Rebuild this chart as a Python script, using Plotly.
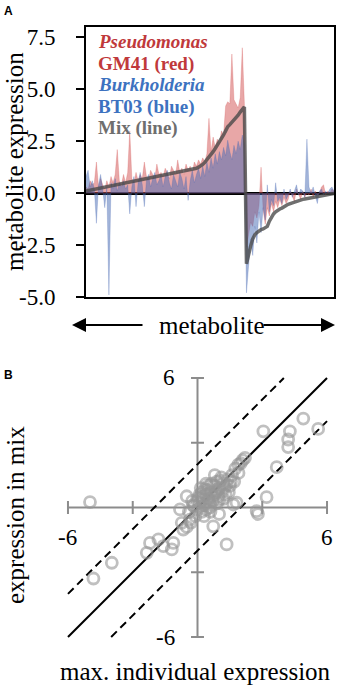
import plotly.graph_objects as go

# ---------------- Panel A data (metabolites sorted by mix expression) ----------------
mix_pos = [0.10, 0.12, 0.14, 0.16, 0.18, 0.20, 0.22, 0.24, 0.26, 0.28, 0.30,
           0.32, 0.34, 0.36, 0.38, 0.40, 0.42, 0.44, 0.46, 0.48, 0.50,
           0.52, 0.54, 0.56, 0.58, 0.60, 0.62, 0.64, 0.66, 0.68, 0.70, 0.72, 0.74, 0.76, 0.78, 0.80,
           0.82, 0.85, 0.88, 0.90, 0.92, 0.94, 0.96, 0.98, 1.00, 1.02, 1.04, 1.06, 1.08, 1.10, 1.12,
           1.14, 1.16, 1.20, 1.25, 1.30,
           1.38, 1.48, 1.60, 1.72, 1.85, 2.00, 2.15, 2.30, 2.45, 2.60, 2.80, 3.00, 3.20, 3.30, 3.40,
           3.50, 3.60, 3.75, 3.90, 4.00, 4.15]
mix_neg = [-3.40, -2.90, -2.55, -2.20, -2.00, -1.90, -1.80, -1.75, -1.72, -1.68,
           -1.60, -1.35, -1.15, -1.00, -0.90, -0.82, -0.76, -0.72, -0.65, -0.58,
           -0.54, -0.50, -0.46, -0.42, -0.38, -0.35, -0.33, -0.30, -0.28, -0.26,
           -0.24, -0.22, -0.20, -0.19, -0.18, -0.16, -0.14, -0.12, -0.10, -0.08,
           -0.06, -0.04, -0.02]
mix_expr = mix_pos + mix_neg

pseudo_pos = [0.3, 0.2, 0.6, 0.4, 0.5, 1.5, 0.3, 0.7, 0.4, 0.2, 0.6,
              0.3, 0.8, 0.5, 0.9, 2.1, 0.6, 0.4, 0.9, 0.5, 1.0,
              3.0, 0.7, 0.5, 1.0, 0.6, 0.9, 0.7, 1.5, 0.8, 0.6, 1.1, 0.9, 0.7, 1.4, 0.9,
              1.0, 0.8, 1.2, 1.0, 0.7, 1.3, 1.1, 0.9, 1.6, 1.0, 1.2, 0.9, 1.4, 1.1, 1.3,
              1.0, 1.5, 1.3, 1.6, 1.4,
              1.7, 1.5, 1.9, 3.6, 2.0, 2.7, 2.2, 2.6, 2.4, 3.0, 2.8, 4.2, 4.4, 4.3, 6.7,
              4.5, 4.3, 4.1, 4.6, 7.0, 4.3]
pseudo_neg = [-2.6, -2.0, -1.4, -1.6, -0.9, -1.2, -0.6, 1.25, -0.8, -1.5,
              -0.7, -1.1, -0.5, -0.9, -0.4, -0.7, -0.3, -0.6, -0.2, -0.5,
              -0.3, 0.1, -0.2, -0.4, 0.2, -0.1, -0.3, 0.1, -0.2, 0.0,
              -0.1, 0.2, -0.2, 0.1, -0.1, 0.0, 0.3, 0.4, -0.1, 0.1,
              0.0, 0.2, 0.1]
pseudomonas = pseudo_pos + pseudo_neg

burk_pos = [0.8, 1.1, 0.3, 0.6, 0.2, -1.45, 0.4, 0.9, 0.2, -0.7, 0.3,
            -4.9, 0.5, 0.2, 0.7, 0.1, 0.5, 0.3, 0.6, 0.2, 0.4,
            -1.0, 0.3, 0.8, -0.65, 0.5, 1.0, 0.4, -0.65, 0.6, 0.9, 0.3, 0.7, 1.0, 0.4, 0.6,
            0.9, 0.3, 0.8, 1.1, 0.5, 0.2, 0.9, 0.6, 0.3, 1.0, 0.7, 0.2, 0.8, -0.35, 0.6,
            1.1, 0.5, 0.9, 1.2, 0.7,
            1.3, 0.8, 1.5, 1.0, 1.7, 1.2, 1.9, 1.4, 2.0, 1.6, 2.2, 1.8, 2.55, 2.0, 1.6,
            2.3, 1.9, 2.5, 2.1, 2.8, 2.4]
burk_neg = [-4.8, -3.6, -2.2, -3.0, -1.6, -2.4, -0.9, -1.9, -0.7, -1.3,
            0.4, -0.9, -0.3, -0.6, 0.5, -0.4, -0.2, -0.5, 0.2, -0.3,
            -0.1, 0.2, -0.2, 0.1, 0.4, -0.1, 0.2, 0.1, -0.2, 2.6,
            0.3, 0.0, 0.3, -0.1, -0.5, 0.1, 0.2, -0.1, 0.1, 0.0,
            0.2, 0.3, 0.1]
burkholderia = burk_pos + burk_neg

metabolite_idx = list(range(len(mix_expr)))
a_ticks = [-5.0, -2.5, 0.0, 2.5, 5.0, 7.5]

# ---------------- Panel B data ----------------
max_individual = [-4.98, 3.05, 4.28, 4.90, 5.59, 4.20, 4.20, 3.67, 3.20, 2.09, 1.89,
                  -0.50, -0.81, 2.74, 1.81, -4.82, -3.97, -2.35, -2.20, -1.81, -1.58,
                  -1.19, -1.12, -0.66, -0.73, -0.35, 0.73, 1.35, 1.66, 2.80, 2.20,
                  0.10, 0.30, 0.50, 0.20, 0.60, 0.80, 1.00, 1.20, 1.40, 1.50, 1.10,
                  0.90, 0.70, 0.40, 0.00, -0.20, 0.30, 0.60, 1.30, 1.60, 1.70, 0.50,
                  0.20, -0.10, -0.40, 0.90, 1.00, 0.40, 1.20, 0.80, 1.90, 0.00, -0.30,
                  -0.50, 0.15, 1.45, 0.65, 2.00, 1.75, 0.55, 1.15, -0.15, 0.35,
                  0.25, 0.45, 0.85, 1.05, 1.25, 0.95, 0.60, 0.35, 0.75, 1.35,
                  0.05, 0.55, 1.55, 0.20, 0.70, 1.00, -0.25, 0.40, 0.10, 0.90]
mix_values = [0.25, 3.53, 3.53, 4.12, 3.64, 3.15, 2.80, 1.87, 0.48, 2.19, 1.99,
              0.52, -0.09, -0.17, 0.22, -3.29, -2.56, -2.10, -1.64, -1.48, -1.79,
              -1.94, -1.64, -1.02, -0.71, -0.56, -0.87, -1.71, 0.14, -0.30, 2.30,
              0.20, 0.10, 0.40, -0.20, 0.70, 0.60, 0.90, 1.10, 1.30, 1.00, 1.40,
              1.20, 0.30, 0.60, -0.10, 0.10, -0.40, -0.20, 0.60, 1.50, 1.20, 1.00,
              0.50, -0.40, -0.20, 0.20, -0.30, -0.10, 0.40, 1.50, 1.60, 0.30, -0.70,
              -0.90, 0.90, 0.70, 1.10, 2.05, 1.80, 0.00, 0.75, 0.05, 0.85,
              0.35, 0.80, 0.70, 1.25, 0.95, 0.50, 0.15, 0.20, 1.00, 1.05,
              0.45, 0.30, 1.20, 0.70, 0.55, 0.35, 0.30, 1.10, 0.60, 0.80]
b_ticks = [-6, -3, 3, 6]
b_offsets = [0, 2, -2]
b_limit = 6

W, H = 340, 686
def px(x):
    return x / W
def py(y):
    return 1 - y / H

serif = "Liberation Serif, Times New Roman, serif"

fig = go.Figure()

# Panel A traces
fig.add_trace(go.Scatter(x=metabolite_idx, y=pseudomonas, mode="lines", fill="tozeroy",
                         line=dict(color="rgba(210,80,80,0.5)", width=0.5),
                         fillcolor="rgba(210,80,80,0.5)", xaxis="x", yaxis="y",
                         showlegend=False, hoverinfo="skip"))
fig.add_trace(go.Scatter(x=metabolite_idx, y=burkholderia, mode="lines", fill="tozeroy",
                         line=dict(color="rgba(70,105,180,0.5)", width=0.5),
                         fillcolor="rgba(70,105,180,0.5)", xaxis="x", yaxis="y",
                         showlegend=False, hoverinfo="skip"))
fig.add_trace(go.Scatter(x=metabolite_idx, y=mix_expr, mode="lines",
                         line=dict(color="rgba(70,70,70,0.78)", width=3.5),
                         xaxis="x", yaxis="y", showlegend=False, hoverinfo="skip"))

# Panel B traces: reference lines
for off in b_offsets:
    xs = [max(-b_limit, -b_limit - off), min(b_limit, b_limit - off)]
    ys = [v + off for v in xs]
    fig.add_trace(go.Scatter(x=xs, y=ys, mode="lines",
                             line=dict(color="black", width=2, dash="solid" if off == 0 else "8px,5px"),
                             xaxis="x2", yaxis="y2", showlegend=False, hoverinfo="skip"))

fig.add_trace(go.Scatter(x=max_individual, y=mix_values, mode="markers",
                         marker=dict(symbol="circle-open", size=11,
                                     color="rgba(150,150,150,0.6)",
                                     line=dict(width=2.8, color="rgba(150,150,150,0.6)")),
                         xaxis="x2", yaxis="y2", showlegend=False, hoverinfo="skip"))

# crosshair axes for panel B (shapes in data coordinates)
shapes = []
axc = "#8c8c8c"
shapes.append(dict(type="line", xref="x2", yref="y2", x0=-b_limit, x1=b_limit, y0=0, y1=0,
                   line=dict(color=axc, width=2), layer="below"))
shapes.append(dict(type="line", xref="x2", yref="y2", x0=0, x1=0, y0=-b_limit, y1=b_limit,
                   line=dict(color=axc, width=2), layer="below"))
half = 0.3
for t in b_ticks:
    shapes.append(dict(type="line", xref="x2", yref="y2", x0=t, x1=t, y0=-half, y1=half,
                       line=dict(color=axc, width=2), layer="below"))
    shapes.append(dict(type="line", xref="x2", yref="y2", x0=-half, x1=half, y0=t, y1=t,
                       line=dict(color=axc, width=2), layer="below"))

def ann(text, x, y, size, color="black", family=serif, **kw):
    d = dict(text=text, x=x, y=y, xref="paper", yref="paper", showarrow=False,
             xanchor="center", yanchor="middle",
             font=dict(family=family, size=size, color=color))
    d.update(kw)
    return d

annotations = []
# panel letters
annotations.append(ann("<b>A</b>", px(8), py(11), 12, family="Liberation Sans, Arial, sans-serif"))
annotations.append(ann("<b>B</b>", px(8), py(375), 12, family="Liberation Sans, Arial, sans-serif"))
# legend text for panel A
leg = [("<b><i>Pseudomonas</i></b>", "#c0393b", 42),
       ("<b>GM41 (red)</b>", "#c0393b", 64),
       ("<b><i>Burkholderia</i></b>", "#3d72c0", 85),
       ("<b>BT03 (blue)</b>", "#3d72c0", 107),
       ("<b>Mix (line)</b>", "#6e6e6e", 128)]
for txt, col, yy in leg:
    annotations.append(ann(txt, px(96), py(yy), 19, color=col, xanchor="left"))
# axis titles panel A
annotations.append(ann("metabolite expression", px(15), py(162), 25, textangle=-90))
annotations.append(ann("metabolite", px(212), py(325), 25))
# arrows
annotations.append(dict(text="", x=px(72), y=py(325), ax=72, ay=0, xref="paper", yref="paper",
                        axref="pixel", ayref="pixel", showarrow=True, arrowhead=2, arrowsize=1.4,
                        arrowwidth=2, arrowcolor="black"))
annotations.append(dict(text="", x=px(335), y=py(325), ax=-73, ay=0, xref="paper", yref="paper",
                        axref="pixel", ayref="pixel", showarrow=True, arrowhead=2, arrowsize=1.4,
                        arrowwidth=2, arrowcolor="black"))
# panel B tick labels
bfont = dict(family=serif, size=23, color="black")
annotations.append(dict(text="6", x=0, y=b_limit, xref="x2", yref="y2", xanchor="right", yanchor="middle",
                        xshift=-21, showarrow=False, font=bfont))
annotations.append(dict(text="-6", x=0, y=-b_limit, xref="x2", yref="y2", xanchor="right", yanchor="middle",
                        xshift=-21, showarrow=False, font=bfont))
annotations.append(dict(text="-6", x=-b_limit, y=0, xref="x2", yref="y2", xanchor="center", yanchor="middle",
                        yshift=-30, showarrow=False, font=bfont))
annotations.append(dict(text="6", x=b_limit, y=0, xref="x2", yref="y2", xanchor="center", yanchor="middle",
                        yshift=-30, showarrow=False, font=bfont))
# panel B axis titles
annotations.append(ann("expression in mix", px(15), py(515), 25, textangle=-90))
annotations.append(ann("max. individual expression", px(196), py(671), 25))

fig.update_layout(
    template="none",
    width=W, height=H, margin=dict(l=0, r=0, t=0, b=0, pad=0), autosize=False,
    paper_bgcolor="white", plot_bgcolor="white",
    xaxis=dict(domain=[px(86), px(334)], range=[0, len(mix_expr) - 1], showgrid=False,
               zeroline=False, showticklabels=False, ticks="", showline=True, mirror=True,
               linecolor="black", linewidth=2, anchor="y", automargin=False),
    yaxis=dict(domain=[py(297), py(27)], range=[-5, 8], showgrid=False,
               zeroline=True, zerolinecolor="black", zerolinewidth=2.5,
               tickvals=a_ticks, ticktext=[f"{v:.1f}" for v in a_ticks],
               ticks="outside", ticklen=8, tickwidth=2, tickcolor="black",
               ticklabelstandoff=16, automargin=False,
               showline=True, mirror=True, linecolor="black", linewidth=2,
               tickfont=dict(family=serif, size=23, color="black"), anchor="x"),
    xaxis2=dict(domain=[px(61.5), px(333.5)], range=[-6.3, 6.3], visible=False, anchor="y2",
                automargin=False),
    yaxis2=dict(domain=[py(643.5), py(371.5)], range=[-6.3, 6.3], visible=False, anchor="x2",
                automargin=False),
    shapes=shapes, annotations=annotations,
)

fig.write_html("out.html", config={"displayModeBar": False, "responsive": False},
               post_script="document.body.style.margin='0px';document.body.style.overflow='hidden';")
